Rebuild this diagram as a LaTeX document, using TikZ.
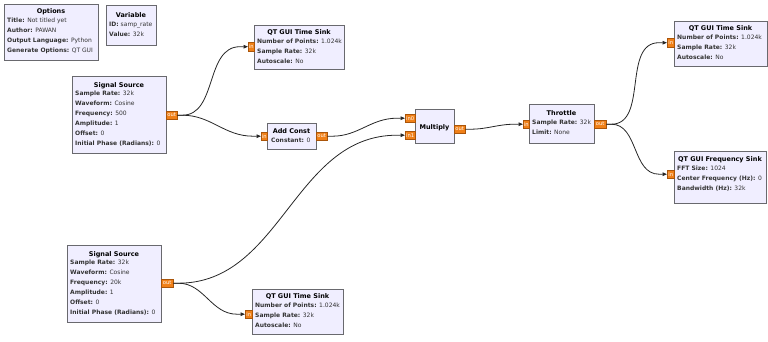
\documentclass[tikz,border=0pt]{standalone}
\usepackage{fontspec}
\setmainfont{DejaVu Sans}
\usetikzlibrary{arrows.meta}
\definecolor{blkfill}{RGB}{240,238,255}
\definecolor{blkdraw}{RGB}{105,105,110}
\definecolor{portfill}{RGB}{240,128,24}
\definecolor{portdraw}{RGB}{170,85,10}
\tikzset{
  blk/.style={draw=blkdraw, fill=blkfill, line width=0.7pt, anchor=north west, inner sep=0pt},
  port/.style={draw=portdraw, fill=portfill, line width=0.4pt, anchor=north west, inner sep=0pt,
    text=white, font=\fontsize{5.2}{5}\selectfont},
  ttl/.style={anchor=base, inner sep=0pt, font=\fontsize{6.5}{10}\selectfont\bfseries},
  props/.style={anchor=north west, inner sep=0pt, align=left, text=black!80,
    font=\fontsize{6}{10}\selectfont},
  wire/.style={draw=black!85, line width=0.8pt, -{Triangle[length=4.5pt,width=3.6pt]}},
}
\begin{document}
\begin{tikzpicture}[x=1pt,y=-1pt]
\useasboundingbox (0,0) rectangle (768,342);
% Options
\node[blk, minimum width=94, minimum height=56] (opt) at (4,4) {};
\node[ttl] (optt) at (51,13.5) {Options};
\node[props] (optp) at (7,18) {\textbf{Title:} Not titled yet\\\textbf{Author:} PAWAN\\\textbf{Output Language:} Python\\\textbf{Generate Options:} QT GUI};
% Variable
\node[blk, minimum width=50, minimum height=40] (var) at (106,5) {};
\node[ttl] (vart) at (131,17.5) {Variable};
\node[props] (varp) at (109,21.5) {\textbf{ID:} samp\_rate\\\textbf{Value:} 32k};
% Signal Source 1
\node[blk, minimum width=94, minimum height=77] (ss1) at (72,76) {};
\node[ttl] (ss1t) at (119,87.5) {Signal Source};
\node[props] (ss1p) at (75,90.5) {\textbf{Sample Rate:} 32k\\\textbf{Waveform:} Cosine\\\textbf{Frequency:} 500\\\textbf{Amplitude:} 1\\\textbf{Offset:} 0\\\textbf{Initial Phase (Radians):} 0};
\node[port, minimum width=11, minimum height=8] (ss1o) at (166,111) {out};
% QT GUI Time Sink 1
\node[blk, minimum width=90, minimum height=44] (ts1) at (254,25) {};
\node[ttl] (ts1t) at (299,34.5) {QT GUI Time Sink};
\node[props] (ts1p) at (257,39) {\textbf{Number of Points:} 1.024k\\\textbf{Sample Rate:} 32k\\\textbf{Autoscale:} No};
\node[port, minimum width=6, minimum height=9] (ts1i) at (248,42) {in};
% Add Const
\node[blk, minimum width=49, minimum height=26] (ac) at (267,123) {};
\node[ttl] (act) at (291.5,133.5) {Add Const};
\node[props] (acp) at (271,138) {\textbf{Constant:} 0};
\node[port, minimum width=6, minimum height=8] (aci) at (261,132) {in};
\node[port, minimum width=11, minimum height=8] (aco) at (316,132) {out};
% Multiply
\node[blk, minimum width=39, minimum height=34] (mul) at (415,109) {};
\node[ttl] (mult) at (434.5,129.5) {Multiply};
\node[port, minimum width=10, minimum height=8] (muli0) at (405,114) {in0};
\node[port, minimum width=10, minimum height=8] (muli1) at (405,131) {in1};
\node[port, minimum width=11, minimum height=8] (mulo) at (454,125) {out};
% Throttle
\node[blk, minimum width=65, minimum height=39] (thr) at (529,104) {};
\node[ttl] (thrt) at (561.5,115.5) {Throttle};
\node[props] (thrp) at (532,120) {\textbf{Sample Rate:} 32k\\\textbf{Limit:} None};
\node[port, minimum width=6, minimum height=8] (thri) at (523,120) {in};
\node[port, minimum width=12, minimum height=8] (thro) at (594,120) {out};
% QT GUI Time Sink 2
\node[blk, minimum width=93, minimum height=45] (ts2) at (674,21) {};
\node[ttl] (ts2t) at (720.5,30.5) {QT GUI Time Sink};
\node[props] (ts2p) at (677,35) {\textbf{Number of Points:} 1.024k\\\textbf{Sample Rate:} 32k\\\textbf{Autoscale:} No};
\node[port, minimum width=7, minimum height=9] (ts2i) at (667,38) {in};
% QT GUI Frequency Sink
\node[blk, minimum width=92, minimum height=52] (fs) at (674,151) {};
\node[ttl] (fst) at (720,161.5) {QT GUI Frequency Sink};
\node[props] (fsp) at (677,166) {\textbf{FFT Size:} 1024\\\textbf{Center Frequency (Hz):} 0\\\textbf{Bandwidth (Hz):} 32k};
\node[port, minimum width=7, minimum height=8] (fsi) at (667,170) {in};
% Signal Source 2
\node[blk, minimum width=94, minimum height=77] (ss2) at (67,245) {};
\node[ttl] (ss2t) at (114,256.5) {Signal Source};
\node[props] (ss2p) at (70,259.5) {\textbf{Sample Rate:} 32k\\\textbf{Waveform:} Cosine\\\textbf{Frequency:} 20k\\\textbf{Amplitude:} 1\\\textbf{Offset:} 0\\\textbf{Initial Phase (Radians):} 0};
\node[port, minimum width=12, minimum height=8] (ss2o) at (161,279) {out};
% QT GUI Time Sink 3
\node[blk, minimum width=91, minimum height=45] (ts3) at (252,289) {};
\node[ttl] (ts3t) at (297.5,298.5) {QT GUI Time Sink};
\node[props] (ts3p) at (255,303) {\textbf{Number of Points:} 1.024k\\\textbf{Sample Rate:} 32k\\\textbf{Autoscale:} No};
\node[port, minimum width=7, minimum height=8] (ts3i) at (245,310) {in};
% connectors
\draw[wire] (ss1o.east) -- ++(5,0) to[out=0,in=180] ([xshift=-8pt]ts1i.west) -- (ts1i.west);
\draw[wire] (ss1o.east) -- ++(5,0) to[out=0,in=180] ([xshift=-8pt]aci.west) -- (aci.west);
\draw[wire] (aco.east) -- ++(5,0) to[out=0,in=180] ([xshift=-8pt]muli0.west) -- (muli0.west);
\draw[wire] (ss2o.east) -- ++(5,0) to[out=0,in=180] ([xshift=-8pt]muli1.west) -- (muli1.west);
\draw[wire] (ss2o.east) -- ++(5,0) to[out=0,in=180] ([xshift=-8pt]ts3i.west) -- (ts3i.west);
\draw[wire] (mulo.east) -- ++(5,0) to[out=0,in=180] ([xshift=-8pt]thri.west) -- (thri.west);
\draw[wire] (thro.east) -- ++(5,0) to[out=0,in=180] ([xshift=-8pt]ts2i.west) -- (ts2i.west);
\draw[wire] (thro.east) -- ++(5,0) to[out=0,in=180] ([xshift=-8pt]fsi.west) -- (fsi.west);
\end{tikzpicture}
\end{document}
